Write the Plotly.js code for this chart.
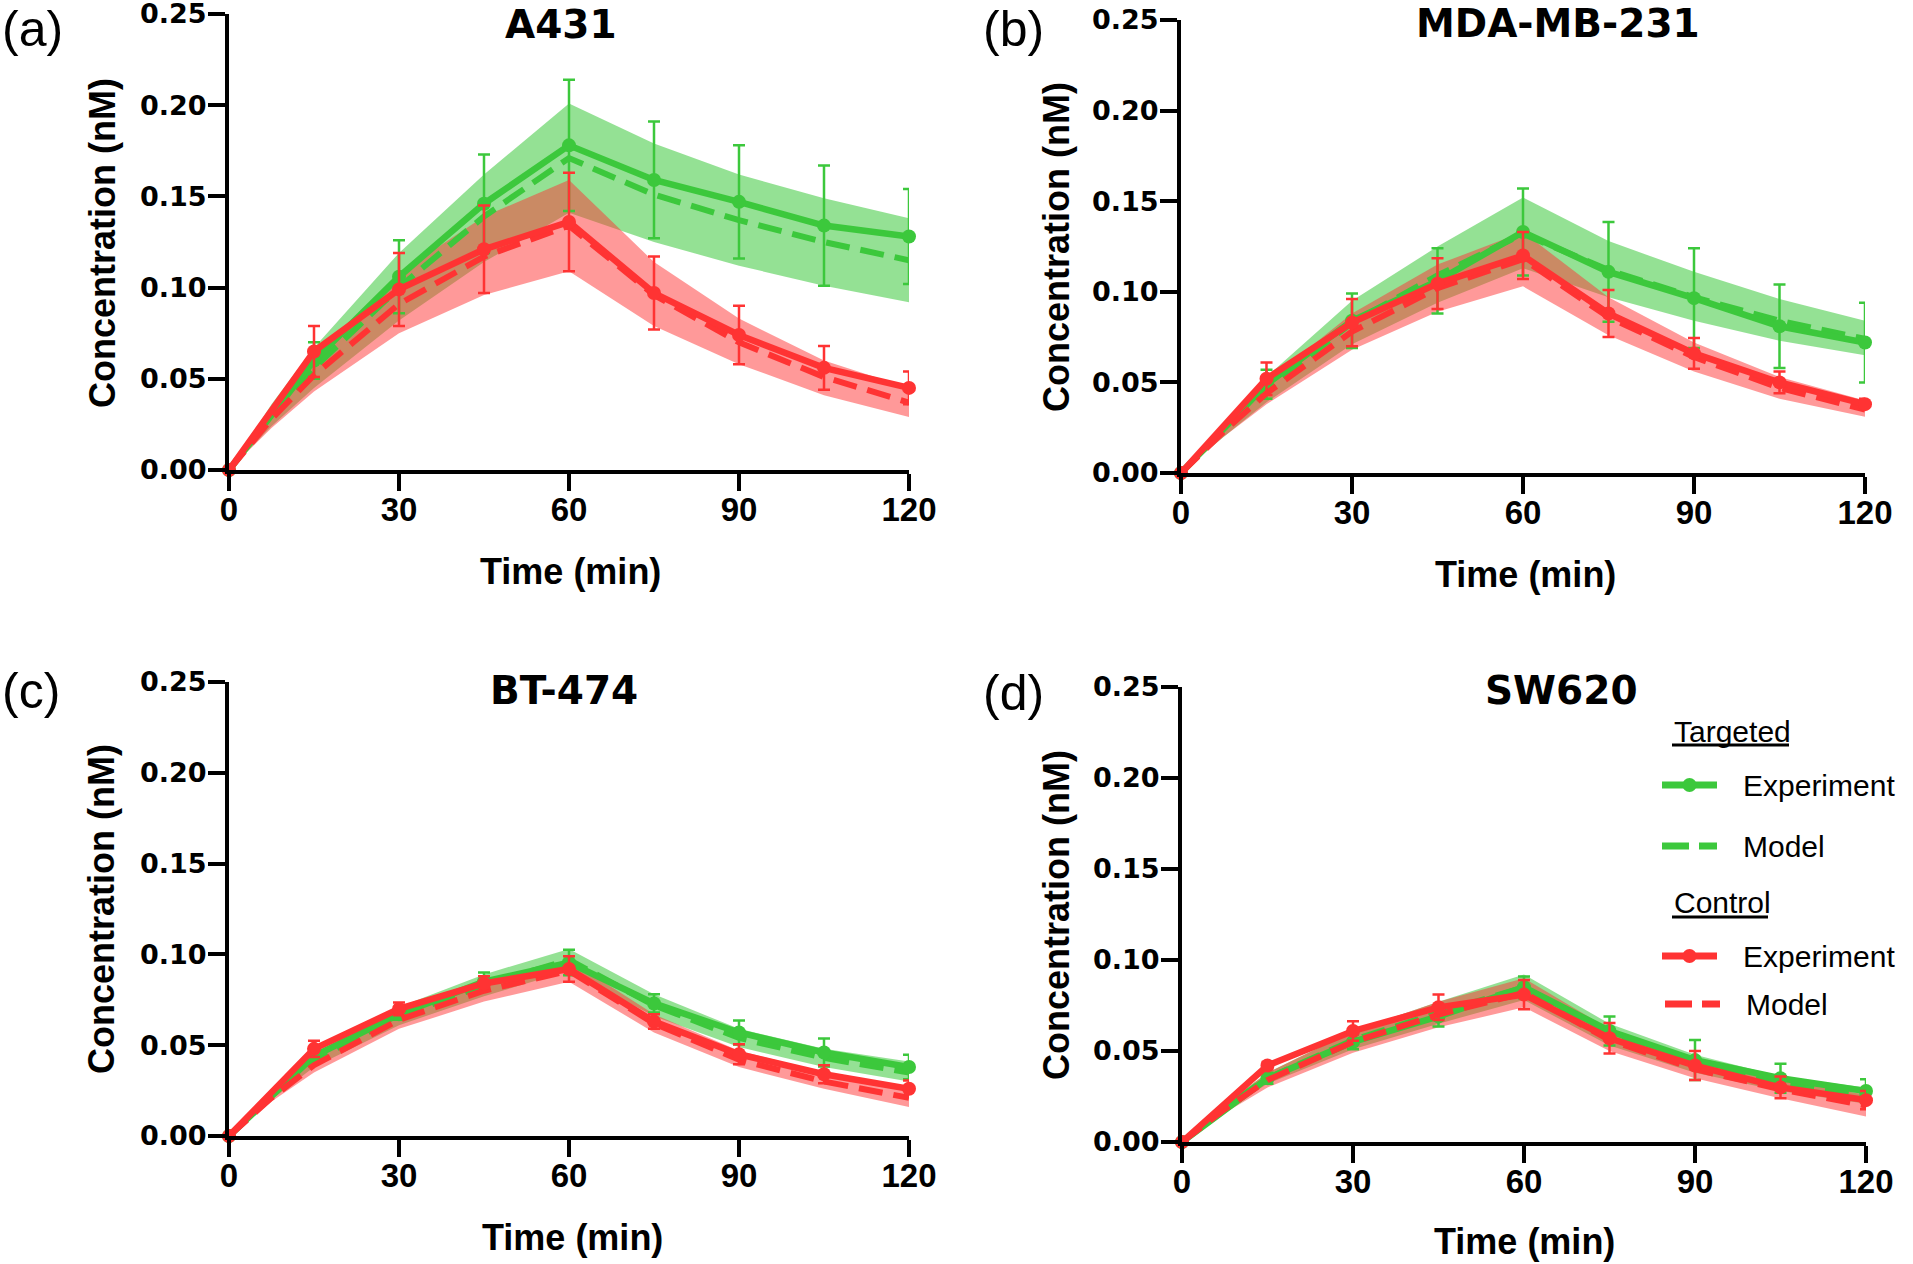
<!DOCTYPE html>
<html>
<head>
<meta charset="utf-8">
<script src="https://cdn.plot.ly/plotly-3.0.1.min.js"></script>
<style>
  html, body { margin: 0; padding: 0; background: #fff; }
  #chart { width: 1913px; height: 1264px; }
</style>
</head>
<body>
<div id="chart"></div>
<script>
// Sampling times (min)
const expTimes = [0, 15, 30, 45, 60, 75, 90, 105, 120];
const modelTimes = [0, 7.5, 15, 30, 45, 60, 75, 90, 105, 120];

// Axis ticks
const xTickVals = [0, 30, 60, 90, 120];
const yTickVals = [0, 0.05, 0.10, 0.15, 0.20, 0.25];
const yTickText = ['0.00', '0.05', '0.10', '0.15', '0.20', '0.25'];

// (a) A431
const a431TargetedExp = [0, 0.060, 0.106, 0.146, 0.178, 0.159, 0.147, 0.134, 0.128];
const a431TargetedErr = [0, 0.010, 0.020, 0.027, 0.036, 0.032, 0.031, 0.033, 0.026];
const a431ControlExp = [0, 0.065, 0.099, 0.121, 0.136, 0.097, 0.074, 0.056, 0.045];
const a431ControlErr = [0, 0.014, 0.020, 0.024, 0.027, 0.020, 0.016, 0.012, 0.009];
const a431TargetedModel = [0, 0.030, 0.056, 0.100, 0.139, 0.171, 0.151, 0.137, 0.125, 0.115];
const a431TargetedLo = [0, 0.024, 0.045, 0.082, 0.114, 0.141, 0.125, 0.112, 0.101, 0.092];
const a431TargetedHi = [0, 0.036, 0.067, 0.119, 0.162, 0.201, 0.179, 0.162, 0.149, 0.138];
const a431ControlModel = [0, 0.028, 0.052, 0.091, 0.117, 0.134, 0.096, 0.070, 0.051, 0.037];
const a431ControlLo = [0, 0.023, 0.043, 0.075, 0.096, 0.109, 0.079, 0.058, 0.041, 0.029];
const a431ControlHi = [0, 0.034, 0.062, 0.108, 0.139, 0.159, 0.114, 0.083, 0.060, 0.045];

// (b) MDA-MB-231
const mdaTargetedExp = [0, 0.049, 0.084, 0.106, 0.133, 0.111, 0.0965, 0.081, 0.072];
const mdaTargetedErr = [0, 0.008, 0.015, 0.018, 0.024, 0.0275, 0.0275, 0.023, 0.022];
const mdaControlExp = [0, 0.052, 0.083, 0.1045, 0.120, 0.088, 0.066, 0.050, 0.038];
const mdaControlErr = [0, 0.009, 0.013, 0.014, 0.013, 0.013, 0.0085, 0.006, 0.003];
const mdaTargetedModel = [0, 0.024, 0.046, 0.083, 0.109, 0.132, 0.112, 0.097, 0.084, 0.074];
const mdaTargetedLo = [0, 0.020, 0.039, 0.071, 0.094, 0.113, 0.097, 0.084, 0.073, 0.065];
const mdaTargetedHi = [0, 0.028, 0.053, 0.095, 0.125, 0.152, 0.128, 0.111, 0.096, 0.084];
const mdaControlModel = [0, 0.023, 0.044, 0.078, 0.102, 0.118, 0.086, 0.064, 0.047, 0.035];
const mdaControlLo = [0, 0.020, 0.038, 0.068, 0.089, 0.103, 0.076, 0.056, 0.041, 0.031];
const mdaControlHi = [0, 0.026, 0.050, 0.088, 0.115, 0.133, 0.097, 0.072, 0.053, 0.040];

// (c) BT-474
const btTargetedExp = [0, 0.044, 0.067, 0.085, 0.0955, 0.073, 0.057, 0.046, 0.038];
const btTargetedErr = [0, 0.003, 0.003, 0.005, 0.007, 0.005, 0.0066, 0.0077, 0.0067];
const btControlExp = [0, 0.048, 0.070, 0.084, 0.092, 0.063, 0.045, 0.034, 0.026];
const btControlErr = [0, 0.0045, 0.0035, 0.004, 0.007, 0.004, 0.0055, 0.005, 0.0045];
const btTargetedModel = [0, 0.022, 0.042, 0.066, 0.083, 0.097, 0.072, 0.054, 0.043, 0.035];
const btTargetedLo = [0, 0.020, 0.038, 0.061, 0.077, 0.091, 0.066, 0.049, 0.038, 0.030];
const btTargetedHi = [0, 0.024, 0.046, 0.071, 0.089, 0.103, 0.078, 0.059, 0.048, 0.041];
const btControlModel = [0, 0.021, 0.039, 0.064, 0.080, 0.091, 0.062, 0.042, 0.030, 0.021];
const btControlLo = [0, 0.019, 0.035, 0.059, 0.074, 0.085, 0.057, 0.038, 0.026, 0.016];
const btControlHi = [0, 0.023, 0.043, 0.069, 0.086, 0.097, 0.067, 0.047, 0.035, 0.026];

// (d) SW620
const swTargetedExp = [0, 0.035, 0.055, 0.069, 0.085, 0.061, 0.045, 0.035, 0.028];
const swTargetedErr = [0, 0.003, 0.004, 0.0055, 0.006, 0.008, 0.011, 0.008, 0.0065];
const swControlExp = [0, 0.042, 0.061, 0.074, 0.081, 0.057, 0.042, 0.030, 0.023];
const swControlErr = [0, 0.002, 0.0054, 0.007, 0.008, 0.0084, 0.008, 0.006, 0.005];
const swTargetedModel = [0, 0.019, 0.035, 0.056, 0.071, 0.085, 0.059, 0.043, 0.032, 0.025];
const swTargetedLo = [0, 0.017, 0.032, 0.051, 0.065, 0.078, 0.053, 0.038, 0.028, 0.021];
const swTargetedHi = [0, 0.021, 0.038, 0.061, 0.077, 0.092, 0.065, 0.048, 0.036, 0.030];
const swControlModel = [0, 0.018, 0.034, 0.055, 0.070, 0.082, 0.056, 0.040, 0.029, 0.020];
const swControlLo = [0, 0.016, 0.030, 0.049, 0.063, 0.074, 0.050, 0.035, 0.024, 0.014];
const swControlHi = [0, 0.020, 0.038, 0.061, 0.077, 0.090, 0.062, 0.045, 0.034, 0.026];

const W = 1913, H = 1264;
const GREEN = '#3cc83c';
const RED = '#ff3333';
const GREEN_BAND = 'rgba(61, 201, 61, 0.55)';
const RED_BAND = 'rgba(255, 51, 51, 0.5)';

// pixel -> paper helpers (margins are zero, so paper == page)
const px = x => x / W;
const py = y => 1 - y / H;

const panels = [
    {
        tag: '(a)', title: 'A431', ax: '', box: [229, 909, 14, 470],
        titlePos: [561, 25], xTitlePos: [570, 571], yTitlePos: [102, 243], tagPos: [0, 29],
        tExp: a431TargetedExp, tErr: a431TargetedErr, cExp: a431ControlExp, cErr: a431ControlErr,
        tMod: a431TargetedModel, tLo: a431TargetedLo, tHi: a431TargetedHi,
        cMod: a431ControlModel, cLo: a431ControlLo, cHi: a431ControlHi
    },
    {
        tag: '(b)', title: 'MDA-MB-231', ax: '2', box: [1181, 1865, 20, 473],
        titlePos: [1558, 24], xTitlePos: [1525, 574], yTitlePos: [1056, 247], tagPos: [981, 29],
        tExp: mdaTargetedExp, tErr: mdaTargetedErr, cExp: mdaControlExp, cErr: mdaControlErr,
        tMod: mdaTargetedModel, tLo: mdaTargetedLo, tHi: mdaTargetedHi,
        cMod: mdaControlModel, cLo: mdaControlLo, cHi: mdaControlHi
    },
    {
        tag: '(c)', title: 'BT-474', ax: '3', box: [229, 909, 682, 1136],
        titlePos: [564, 690], xTitlePos: [572, 1237], yTitlePos: [102, 909], tagPos: [0, 691],
        tExp: btTargetedExp, tErr: btTargetedErr, cExp: btControlExp, cErr: btControlErr,
        tMod: btTargetedModel, tLo: btTargetedLo, tHi: btTargetedHi,
        cMod: btControlModel, cLo: btControlLo, cHi: btControlHi
    },
    {
        tag: '(d)', title: 'SW620', ax: '4', box: [1182, 1866, 687, 1142],
        titlePos: [1561, 690], xTitlePos: [1524, 1241], yTitlePos: [1056, 915], tagPos: [981, 693],
        tExp: swTargetedExp, tErr: swTargetedErr, cExp: swControlExp, cErr: swControlErr,
        tMod: swTargetedModel, tLo: swTargetedLo, tHi: swTargetedHi,
        cMod: swControlModel, cLo: swControlLo, cHi: swControlHi
    }
];

function band(xs, lo, hi, color, ax) {
    return {
        x: xs.concat(xs.slice().reverse()),
        y: hi.concat(lo.slice().reverse()),
        type: 'scatter', mode: 'lines', fill: 'toself', fillcolor: color,
        line: { width: 0, color: 'rgba(0,0,0,0)' },
        xaxis: 'x' + ax, yaxis: 'y' + ax, hoverinfo: 'skip'
    };
}

function modelLine(ys, color, ax) {
    return {
        x: modelTimes, y: ys, type: 'scatter', mode: 'lines',
        line: { color: color, width: 6, dash: '24px,11px' },
        xaxis: 'x' + ax, yaxis: 'y' + ax, cliponaxis: false
    };
}

function expLine(ys, err, color, ax) {
    return {
        x: expTimes, y: ys, type: 'scatter', mode: 'lines+markers',
        line: { color: color, width: 6.5 },
        marker: { color: color, size: 14 },
        error_y: { type: 'data', array: err, visible: true, color: color, thickness: 2.5, width: 6 },
        xaxis: 'x' + ax, yaxis: 'y' + ax, cliponaxis: false
    };
}

const data = [];
const layout = {
    width: W, height: H,
    margin: { l: 0, r: 0, t: 0, b: 0 },
    paper_bgcolor: '#ffffff',
    plot_bgcolor: 'rgba(0,0,0,0)',
    showlegend: false,
    annotations: [],
    shapes: []
};

const xTickFont = { family: 'Liberation Sans, Arial, sans-serif', size: 33, color: '#000', weight: 'bold' };
const yTickFont = { family: 'DejaVu Sans, Verdana, sans-serif', size: 27, color: '#000', weight: 'bold' };

panels.forEach(p => {
    data.push(band(modelTimes, p.tLo, p.tHi, GREEN_BAND, p.ax));
    data.push(band(modelTimes, p.cLo, p.cHi, RED_BAND, p.ax));
    data.push(modelLine(p.tMod, GREEN, p.ax));
    data.push(expLine(p.tExp, p.tErr, GREEN, p.ax));
    data.push(modelLine(p.cMod, RED, p.ax));
    data.push(expLine(p.cExp, p.cErr, RED, p.ax));

    const [x0, x1, yTop, yBot] = p.box;
    layout['xaxis' + p.ax] = {
        domain: [px(x0), px(x1)],
        anchor: 'y' + p.ax,
        range: [0, 120],
        tickmode: 'array', tickvals: xTickVals,
        showline: true, linecolor: '#000', linewidth: 4,
        ticks: 'outside', ticklen: 17, tickwidth: 4, tickcolor: '#000',
        ticklabelstandoff: -10, ticklabeloverflow: 'allow',
        showgrid: false, zeroline: false,
        tickfont: xTickFont
    };
    layout['yaxis' + p.ax] = {
        domain: [py(yBot), py(yTop)],
        anchor: 'x' + p.ax,
        range: [0, 0.25],
        tickmode: 'array', tickvals: yTickVals, ticktext: yTickText,
        showline: true, linecolor: '#000', linewidth: 4,
        ticks: 'outside', ticklen: 17, tickwidth: 4, tickcolor: '#000',
        ticklabelstandoff: -4, ticklabeloverflow: 'allow',
        showgrid: false, zeroline: false,
        tickfont: yTickFont
    };

    layout.annotations.push({
        text: p.title, x: px(p.titlePos[0]), y: py(p.titlePos[1]),
        xref: 'paper', yref: 'paper', xanchor: 'center', yanchor: 'middle', showarrow: false,
        font: { family: 'DejaVu Sans, Verdana, sans-serif', size: 39, color: '#000', weight: 'bold' }
    });
    layout.annotations.push({
        text: 'Time (min)', x: px(p.xTitlePos[0]), y: py(p.xTitlePos[1]),
        xref: 'paper', yref: 'paper', xanchor: 'center', yanchor: 'middle', showarrow: false,
        font: { family: 'Liberation Sans, Arial, sans-serif', size: 36, color: '#000', weight: 'bold' }
    });
    layout.annotations.push({
        text: 'Concentration (nM)', x: px(p.yTitlePos[0]), y: py(p.yTitlePos[1]), textangle: -90,
        xref: 'paper', yref: 'paper', xanchor: 'center', yanchor: 'middle', showarrow: false,
        font: { family: 'Liberation Sans, Arial, sans-serif', size: 36, color: '#000', weight: 'bold' }
    });
    layout.annotations.push({
        text: p.tag, x: px(p.tagPos[0]), y: py(p.tagPos[1]),
        xref: 'paper', yref: 'paper', xanchor: 'left', yanchor: 'middle', showarrow: false,
        font: { family: 'Liberation Sans, Arial, sans-serif', size: 50, color: '#000' }
    });
});

// Legend drawn inside panel (d)
const legendFont = { family: 'Liberation Sans, Arial, sans-serif', size: 30, color: '#000' };
const legendRows = [
    { kind: 'header', text: 'Targeted', y: 731, underline: [1672, 1789, 745] },
    { kind: 'exp', color: GREEN, text: 'Experiment', y: 785, line: [1662, 1717], textX: 1741 },
    { kind: 'model', color: GREEN, text: 'Model', y: 846, line: [1662, 1717], textX: 1741 },
    { kind: 'header', text: 'Control', y: 902, underline: [1672, 1768, 917] },
    { kind: 'exp', color: RED, text: 'Experiment', y: 956, line: [1662, 1717], textX: 1741 },
    { kind: 'model', color: RED, text: 'Model', y: 1004, line: [1665, 1720], textX: 1744 }
];

legendRows.forEach(r => {
    if (r.kind === 'header') {
        layout.annotations.push({
            text: r.text, x: px(r.underline[0]), y: py(r.y),
            xref: 'paper', yref: 'paper', xanchor: 'left', yanchor: 'middle', showarrow: false,
            font: legendFont
        });
        layout.shapes.push({
            type: 'line', xref: 'paper', yref: 'paper',
            x0: px(r.underline[0]), x1: px(r.underline[1]), y0: py(r.underline[2]), y1: py(r.underline[2]),
            line: { color: '#000', width: 3 }
        });
        return;
    }
    layout.shapes.push({
        type: 'line', xref: 'paper', yref: 'paper',
        x0: px(r.line[0]), x1: px(r.line[1]), y0: py(r.y), y1: py(r.y),
        line: { color: r.color, width: 7, dash: r.kind === 'model' ? '27px,10px' : 'solid' }
    });
    if (r.kind === 'exp') {
        const cx = (r.line[0] + r.line[1]) / 2;
        layout.shapes.push({
            type: 'circle', xref: 'paper', yref: 'paper',
            x0: px(cx - 7), x1: px(cx + 7), y0: py(r.y + 7), y1: py(r.y - 7),
            fillcolor: r.color, line: { width: 0 }
        });
    }
    layout.annotations.push({
        text: r.text, x: px(r.textX), y: py(r.y),
        xref: 'paper', yref: 'paper', xanchor: 'left', yanchor: 'middle', showarrow: false,
        font: legendFont
    });
});

Plotly.newPlot('chart', data, layout, { displayModeBar: false, responsive: false });
</script>
</body>
</html>
